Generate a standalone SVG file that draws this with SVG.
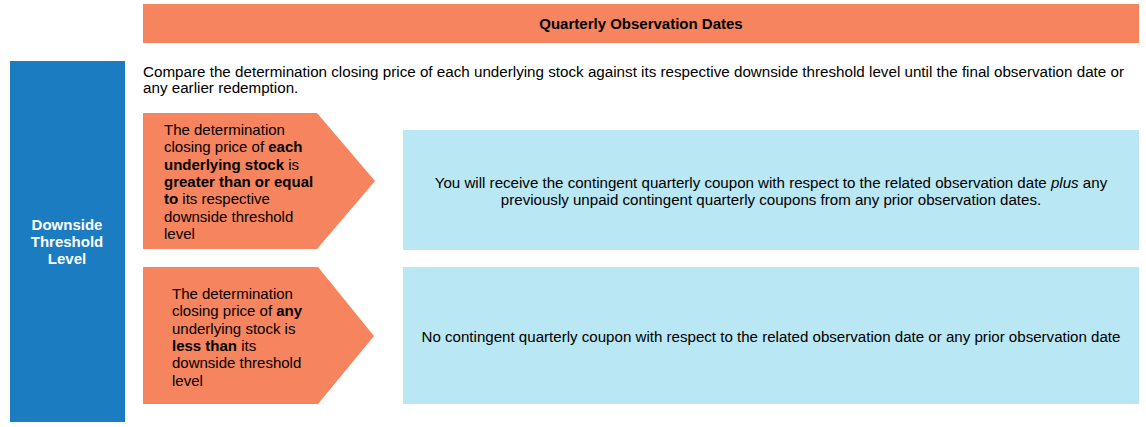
<svg xmlns="http://www.w3.org/2000/svg" width="1146" height="427" viewBox="0 0 1146 427">
<style>
.o{fill:#F6845E}
.lb{fill:#B9E7F3}
.t{font-family:"Liberation Sans",Arial,sans-serif;fill:#000}
.b{font-weight:bold}
</style>
<rect width="1146" height="427" fill="#fff"/>
<g id="header">
<rect class="o" x="143" y="4" width="996" height="39"/>
<text class="t b" x="641" y="29" font-size="15" text-anchor="middle">Quarterly Observation Dates</text>
</g>
<g id="level">
<rect x="10" y="61" width="115" height="361" fill="#1B7CC2"/>
<text class="b" font-family="Liberation Sans,Arial,sans-serif" font-size="15" fill="#fff" text-anchor="middle"><tspan x="67" y="230">Downside</tspan><tspan x="67" y="247">Threshold</tspan><tspan x="67" y="264">Level</tspan></text>
</g>
<g id="intro">
<text class="t" font-size="15.2"><tspan x="143" y="77">Compare the determination closing price of each underlying stock against its respective downside threshold level until the final observation date or</tspan><tspan x="143" y="93">any earlier redemption.</tspan></text>
</g>
<g id="cond1">
<polygon class="o" points="143,113 317,113 375,181 317,249 143,249"/>
<text class="t" font-size="15"><tspan x="164" y="135">The determination</tspan><tspan x="164" y="152.3">closing price of <tspan class="b">each</tspan></tspan><tspan x="164" y="169.6"><tspan class="b">underlying stock</tspan> is</tspan><tspan x="164" y="186.9"><tspan class="b">greater than or equal</tspan></tspan><tspan x="164" y="204.2"><tspan class="b">to</tspan> its respective</tspan><tspan x="164" y="221.5">downside threshold</tspan><tspan x="164" y="238.8">level</tspan></text>
</g>
<g id="result1">
<rect class="lb" x="403" y="130" width="736" height="120"/>
<text class="t" font-size="15.1" text-anchor="middle"><tspan x="771" y="188">You will receive the contingent quarterly coupon with respect to the related observation date <tspan font-style="italic">plus</tspan> any</tspan><tspan x="771" y="205">previously unpaid contingent quarterly coupons from any prior observation dates.</tspan></text>
</g>
<g id="cond2">
<polygon class="o" points="143,267 318,267 374,336 318,404 143,404"/>
<text class="t" font-size="15"><tspan x="172" y="299">The determination</tspan><tspan x="172" y="316.3">closing price of <tspan class="b">any</tspan></tspan><tspan x="172" y="333.6">underlying stock is</tspan><tspan x="172" y="350.9"><tspan class="b">less than</tspan> its</tspan><tspan x="172" y="368.2">downside threshold</tspan><tspan x="172" y="385.5">level</tspan></text>
</g>
<g id="result2">
<rect class="lb" x="403" y="267" width="736" height="137"/>
<text class="t" font-size="15.1" text-anchor="middle" x="771" y="342">No contingent quarterly coupon with respect to the related observation date or any prior observation date</text>
</g>
<g id="connectors"/>
</svg>
